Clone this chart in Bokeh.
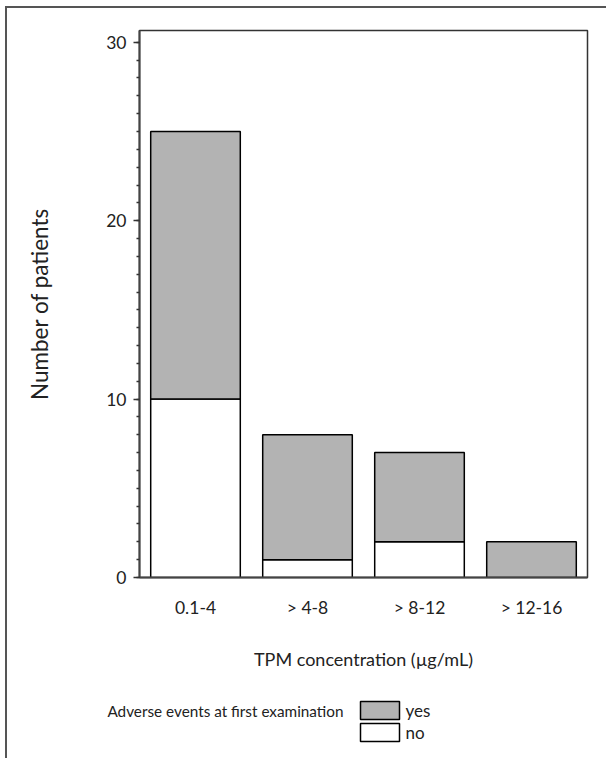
from bokeh.plotting import figure
from bokeh.layouts import column
from bokeh.models import FactorRange, Range1d, SingleIntervalTicker, Label
from bokeh.embed import file_html
from bokeh.resources import INLINE

categories = ["0.1-4", "> 4-8", "> 8-12", "> 12-16"]
no_counts = [10, 1, 2, 0]
yes_counts = [15, 7, 5, 2]
series = ["no", "yes"]
series_labels = ["yes", "no"]
legend_title = "Adverse events at first examination"
y_ticks_major = 10

FONT = "Lato"
TXT = "#222222"
GRAY = "#b3b3b3"

p = figure(width=599, height=682, output_backend="svg", toolbar_location=None,
           x_range=FactorRange(factors=categories, range_padding=0),
           y_range=Range1d(0, 30.66),
           min_border_left=132, min_border_top=22, min_border_right=19, min_border_bottom=113)

src = dict(cat=categories, no=no_counts, yes=yes_counts)
rs = p.vbar_stack(series, x="cat", width=0.8, source=src,
                  fill_color=["white", GRAY], line_color="black", line_width=1.5)

p.grid.visible = False
p.outline_line_color = "#333333"
p.outline_line_width = 1.5

p.yaxis.ticker = SingleIntervalTicker(interval=y_ticks_major, num_minor_ticks=10)
p.yaxis.major_tick_out = 6
p.yaxis.major_tick_in = 0
p.yaxis.minor_tick_out = 3
p.yaxis.minor_tick_in = 0
p.yaxis.major_label_standoff = 7
p.yaxis.axis_label = "Number of patients"
p.yaxis.axis_label_standoff = 50
p.yaxis.axis_label_text_font_size = "22.5px"
p.yaxis.major_tick_line_color = "#333333"
p.yaxis.minor_tick_line_color = "#333333"
p.yaxis.major_tick_line_width = 1.5
p.yaxis.minor_tick_line_width = 1.5

p.xaxis.major_tick_line_color = None
p.xaxis.minor_tick_line_color = None
p.xaxis.major_label_standoff = 13
p.xaxis.axis_label = "TPM concentration (µg/mL)"
p.xaxis.axis_label_standoff = 27
p.xaxis.axis_label_text_font_size = "18px"

for ax in (p.xaxis[0], p.yaxis[0]):
    ax.axis_line_color = "#444444"
    ax.axis_line_width = 2
    ax.major_label_text_font = FONT
    ax.major_label_text_font_size = "17.5px"
    ax.major_label_text_color = TXT
    ax.axis_label_text_font = FONT
    ax.axis_label_text_font_style = "normal"
    ax.axis_label_text_color = TXT

# legend strip (its ranges are page pixels)
p2 = figure(width=599, height=68, output_backend="svg", toolbar_location=None,
            x_range=Range1d(7, 606), y_range=Range1d(758, 690),
            min_border_left=0, min_border_right=0, min_border_top=0, min_border_bottom=0,
            x_axis_location=None, y_axis_location=None)
for fig in (p, p2):
    try:
        fig.frame_align = False
    except Exception:
        pass
p2.grid.visible = False
p2.outline_line_color = None
p2.quad(left=[360, 360], right=[399, 399], top=[701, 723], bottom=[719, 741],
        fill_color=[GRAY, "white"], line_color="black", line_width=1.5)
p2.add_layout(Label(x=343, y=710, text=legend_title, text_align="right", text_baseline="middle",
                    text_font=FONT, text_font_size="15.3px", text_color=TXT))
for lab, yy in zip(series_labels, [710, 732]):
    p2.add_layout(Label(x=405, y=yy, text=lab, text_align="left", text_baseline="middle",
                        text_font=FONT, text_font_size="17px", text_color=TXT))

layout = column(p, p2, spacing=0)
layout.margin = (6, 0, 0, 5)
layout.styles = {"border-top": "2px solid #555555", "border-left": "2px solid #555555"}

open("out.html", "w").write(file_html(layout, INLINE))
